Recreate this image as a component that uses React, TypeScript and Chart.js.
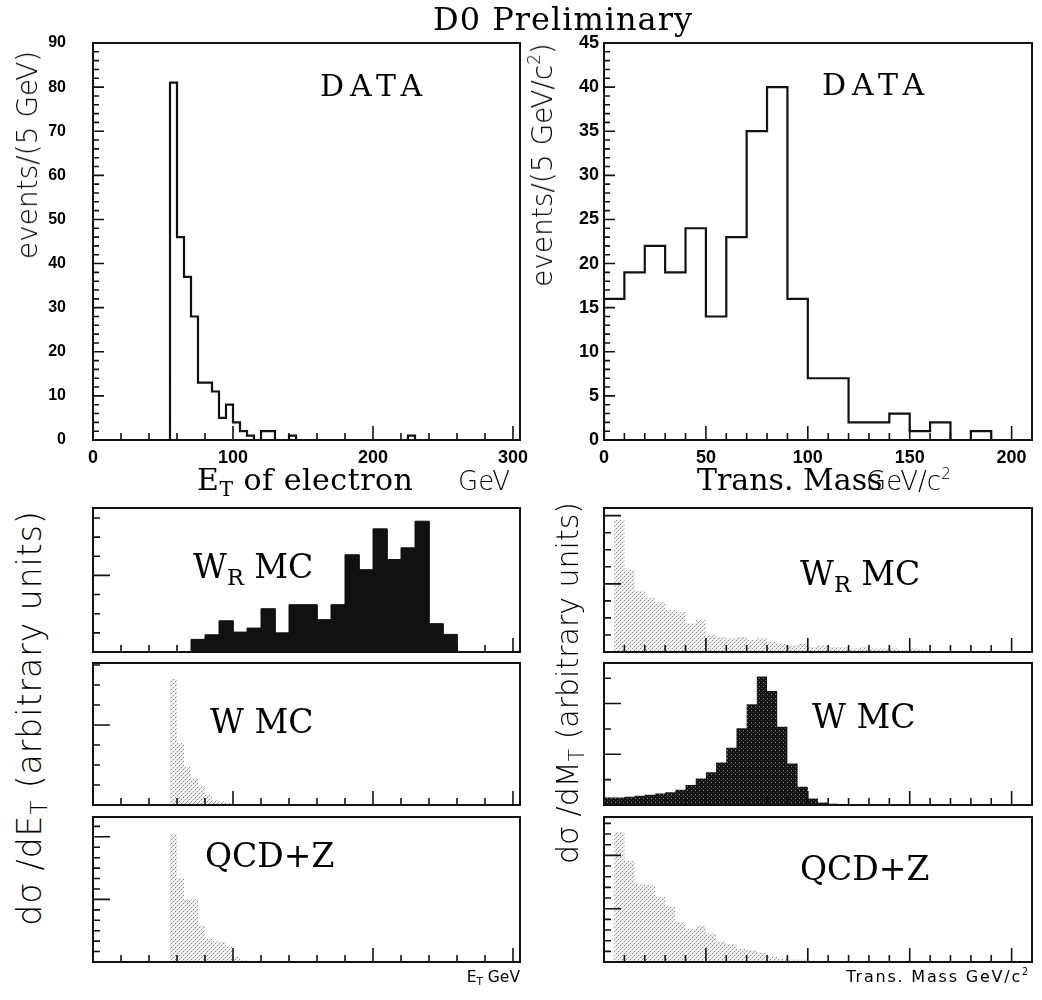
import React, { useEffect, useRef } from "react";
import { Chart, registerables } from "chart.js";

Chart.register(...registerables);

// ================= DATA =================
// Top-left: E_T of electron, DATA, events per 5 GeV (first bin starts at 55 GeV)
const etDataBinStart = 55;
const etDataBinWidth = 5;
const etDataCounts = [81, 46, 37, 28, 13, 13, 11, 5, 8, 4, 2, 1, 0, 2, 2, 0, 0, 1,
  0, 0, 0, 0, 0, 0, 0, 0, 0, 0, 0, 0, 0, 0, 0, 0, 1];
const etAxisLabels = [0, 100, 200, 300];
const etCountLabels = [0, 10, 20, 30, 40, 50, 60, 70, 80, 90];

// Top-right: transverse mass, DATA, 10 GeV/c^2 bins from 0
const mtDataBinStart = 0;
const mtDataBinWidth = 10;
const mtDataCounts = [16, 19, 22, 19, 24, 14, 23, 35, 40, 16, 7, 7, 2, 2, 3, 1, 2, 0, 1, 0];
const mtAxisLabels = [0, 50, 100, 150, 200];
const mtCountLabels = [0, 5, 10, 15, 20, 25, 30, 35, 40, 45];

// Bottom-left: d sigma / dE_T (arbitrary units)
const etWrStart = 70;
const etWrWidth = 10;
const etWrValues = [0.66, 0.9, 1.63, 1.04, 1.25, 2.26, 1.0, 2.47, 2.47, 1.69, 2.47, 5.08, 4.3, 6.43, 4.83, 5.44, 6.83, 1.48, 0.92];
const etWStart = 55;
const etWWidth = 5;
const etWValues = [6.3, 3.1, 1.9, 1.33, 0.92, 0.5, 0.25, 0.17, 0.1];
const etQcdStart = 55;
const etQcdWidth = 5;
const etQcdValues = [12.3, 8.0, 6.0, 6.0, 3.5, 2.2, 2.0, 1.9, 1.5, 0.5, 0.2];

// Bottom-right: d sigma / dM_T (arbitrary units)
const mtWrStart = 0;
const mtWrWidth = 5;
const mtWrValues = [0, 7.75, 4.8, 3.6, 3.2, 2.9, 2.45, 2.35, 1.67, 1.86, 1.0, 0.9, 0.8, 0.9, 0.7, 0.8,
  0.6, 0.5, 0.4, 0.5, 0.3, 0.4, 0.3, 0.3, 0.2, 0.3, 0.2, 0.2, 0.2, 0.1, 0.2, 0.1];
const mtWStart = 0;
const mtWWidth = 5;
const mtWValues = [0.3, 0.3, 0.33, 0.36, 0.4, 0.45, 0.5, 0.6, 0.79, 1.05, 1.29, 1.68, 2.26, 3.03, 3.97,
  5.07, 4.5, 3.09, 1.64, 0.72, 0.26, 0.1, 0.05];
const mtQcdStart = 0;
const mtQcdWidth = 5;
const mtQcdValues = [0, 12.2, 9.5, 7.3, 7.2, 6.1, 5.2, 3.75, 3.1, 3.4, 2.7, 1.9, 1.7, 1.25, 1.1, 0.9,
  0.5, 0.3, 0.2, 0.2, 0.15, 0.1, 0.1];

// ================= STYLE =================
const INK = "#111";
const SERIF = "'DejaVu Serif', 'Liberation Serif', serif";
const SANS = "'DejaVu Sans', sans-serif";
const TICKFONT = "'Liberation Sans', Arial, sans-serif";

type Fill = "none" | "solid" | "light" | "dark";

function histPoints(start: number, width: number, values: number[]) {
  const pts = [{ x: start, y: 0 }];
  values.forEach((v, i) => {
    pts.push({ x: start + i * width, y: v });
    pts.push({ x: start + (i + 1) * width, y: v });
  });
  pts.push({ x: start + values.length * width, y: 0 });
  return pts;
}

function makePattern(kind: "light" | "dark"): CanvasPattern | string {
  const c = document.createElement("canvas");
  c.width = 4;
  c.height = 4;
  const g = c.getContext("2d");
  if (!g) return kind === "light" ? "#ddd" : "#222";
  if (kind === "light") {
    g.fillStyle = "rgba(0,0,0,0.05)";
    g.fillRect(0, 0, 4, 4);
    g.fillStyle = "#8c8c8c";
    g.fillRect(0, 0, 1, 1);
    g.fillRect(2, 2, 1, 1);
    g.fillStyle = "#c8c8c8";
    g.fillRect(1, 3, 1, 1);
    g.fillRect(3, 1, 1, 1);
  } else {
    g.fillStyle = "#141414";
    g.fillRect(0, 0, 4, 4);
    g.fillStyle = "#8a8a8a";
    g.fillRect(1, 1, 1, 1);
    g.fillStyle = "#4a4a4a";
    g.fillRect(3, 3, 1, 1);
  }
  return g.createPattern(c, "repeat") || "#888";
}

type AxisSpec = {
  min: number;
  max: number;
  labels?: number[];
  minor: number;
  major: number;
  minorLen: number;
  majorLen: number;
  labelPad?: number;
  labelSize?: number;
};

type PanelSpec = {
  frame: { l: number; t: number; r: number; b: number };
  pad: { l: number; t: number; r: number; b: number };
  x: AxisSpec;
  y: AxisSpec;
  hist: { start: number; width: number; values: number[]; fill: Fill };
};

function buildConfig(spec: PanelSpec): any {
  const { hist } = spec;
  const fill = hist.fill;
  const bg =
    fill === "solid" ? INK : fill === "light" ? makePattern("light") : fill === "dark" ? makePattern("dark") : "transparent";

  const ticksPlugin = {
    id: "frameTicks",
    afterDatasetsDraw(chart: any) {
      const { ctx, chartArea: a } = chart;
      const xs = chart.scales.x;
      const ys = chart.scales.y;
      const each = (min: number, max: number, step: number, fn: (v: number) => void) => {
        const k0 = Math.ceil(min / step - 1e-9);
        const k1 = Math.floor(max / step + 1e-9);
        for (let k = k0; k <= k1; k++) fn(k * step);
      };
      const isMul = (v: number, m: number) => Math.abs(v / m - Math.round(v / m)) < 1e-6;
      ctx.save();
      ctx.strokeStyle = INK;
      ctx.lineWidth = 1.6;
      ctx.beginPath();
      each(spec.x.min, spec.x.max, spec.x.minor, (v) => {
        const len = isMul(v, spec.x.major) ? spec.x.majorLen : spec.x.minorLen;
        const px = xs.getPixelForValue(v);
        ctx.moveTo(px, a.bottom);
        ctx.lineTo(px, a.bottom - len);
      });
      each(spec.y.min, spec.y.max, spec.y.minor, (v) => {
        const len = isMul(v, spec.y.major) ? spec.y.majorLen : spec.y.minorLen;
        const py = ys.getPixelForValue(v);
        ctx.moveTo(a.left, py);
        ctx.lineTo(a.left + len, py);
      });
      ctx.stroke();
      ctx.lineWidth = 2;
      ctx.strokeRect(a.left, a.top, a.right - a.left, a.bottom - a.top);
      ctx.restore();
    },
  };

  const axis = (ax: AxisSpec, isX: boolean) => ({
    type: "linear",
    min: ax.min,
    max: ax.max,
    grid: { display: false, drawTicks: false },
    border: { display: false },
    ticks: {
      display: !!ax.labels,
      padding: ax.labelPad ?? 6,
      color: "#000",
      autoSkip: false,
      maxRotation: 0,
      font: { family: TICKFONT, weight: "bold", size: ax.labelSize ?? 18 },
      callback: (v: any) => String(v),
    },
    afterBuildTicks: (s: any) => {
      const vals = ax.labels ?? [ax.min, ax.max];
      s.ticks = vals.map((v) => ({ value: v }));
    },
    afterFit: (s: any) => {
      if (isX) {
        s.height = spec.pad.b;
        s.paddingLeft = 0;
        s.paddingRight = 0;
      } else {
        s.width = spec.pad.l;
        s.paddingTop = 0;
        s.paddingBottom = 0;
      }
    },
  });

  return {
    type: "line",
    data: {
      datasets: [
        {
          data: histPoints(hist.start, hist.width, hist.values),
          stepped: false,
          borderColor: fill === "none" || fill === "solid" ? INK : "rgba(0,0,0,0)",
          borderWidth: fill === "none" ? 2.2 : fill === "solid" ? 1 : 0,
          pointRadius: 0,
          fill: fill === "none" ? false : "origin",
          backgroundColor: bg,
        },
      ],
    },
    options: {
      animation: false,
      responsive: false,
      devicePixelRatio: 1,
      events: [],
      layout: { autoPadding: false, padding: { left: 0, top: spec.pad.t, right: spec.pad.r, bottom: 0 } },
      plugins: { legend: { display: false }, tooltip: { enabled: false } },
      scales: { x: axis(spec.x, true), y: axis(spec.y, false) },
    },
    plugins: [ticksPlugin],
  };
}

function Panel({ spec }: { spec: PanelSpec }) {
  const ref = useRef<HTMLCanvasElement>(null);
  const w = spec.frame.r - spec.frame.l + spec.pad.l + spec.pad.r;
  const h = spec.frame.b - spec.frame.t + spec.pad.t + spec.pad.b;
  useEffect(() => {
    if (!ref.current) return;
    const chart = new Chart(ref.current, buildConfig(spec));
    return () => chart.destroy();
  }, []);
  return (
    <canvas
      ref={ref}
      width={w}
      height={h}
      style={{ position: "absolute", left: spec.frame.l - spec.pad.l, top: spec.frame.t - spec.pad.t, width: w, height: h }}
    />
  );
}

function Label(props: {
  x: number;
  y: number;
  size: number;
  family?: string;
  weight?: number | string;
  align?: "left" | "center" | "right";
  spacing?: number;
  children: React.ReactNode;
}) {
  const { x, y, size, family = SERIF, weight = 400, align = "left", spacing = 0, children } = props;
  const tx = align === "center" ? "-50%" : align === "right" ? "-100%" : "0";
  return (
    <div
      style={{
        position: "absolute",
        left: x,
        top: y - 0.846 * size,
        fontSize: size,
        lineHeight: 1,
        fontFamily: family,
        fontWeight: weight as any,
        letterSpacing: spacing,
        whiteSpace: "nowrap",
        transform: `translateX(${tx})`,
        color: "#000",
      }}
    >
      {children}
    </div>
  );
}

function VLabel(props: { cx: number; cy: number; size: number; spacing?: number; children: React.ReactNode }) {
  return (
    <div
      style={{
        position: "absolute",
        left: props.cx,
        top: props.cy,
        fontSize: props.size,
        lineHeight: 1,
        fontFamily: SANS,
        fontWeight: 300,
        letterSpacing: props.spacing ?? 0,
        whiteSpace: "nowrap",
        transform: "translate(-50%,-50%) rotate(-90deg)",
        color: "#000",
      }}
    >
      {props.children}
    </div>
  );
}

const Sub = ({ children }: { children: React.ReactNode }) => (
  <span style={{ fontSize: "0.68em", verticalAlign: "-0.3em", lineHeight: 0 }}>{children}</span>
);
const Sup = ({ children }: { children: React.ReactNode }) => (
  <span style={{ fontSize: "0.6em", verticalAlign: "0.7em", lineHeight: 0 }}>{children}</span>
);

// frames
const LEFT_X = { l: 93, r: 520 };
const RIGHT_X = { l: 604, r: 1032 };
const TOP_Y = { t: 43, b: 440 };
const ROW1 = { t: 508, b: 652 };
const ROW2 = { t: 663, b: 805 };
const ROW3 = { t: 817, b: 962 };

const etX = (labels?: number[]): AxisSpec => ({ min: 0, max: 305, labels, minor: 20, major: 100, minorLen: 7, majorLen: 14, labelPad: 7 });
const mtX = (labels?: number[]): AxisSpec => ({ min: 0, max: 210, labels, minor: 10, major: 50, minorLen: 7, majorLen: 14, labelPad: 7 });
const mcY = (max: number, major: number): AxisSpec => ({ min: 0, max, minor: 1, major, minorLen: 7, majorLen: 17 });
const BOTTOM_PAD = { l: 6, t: 6, r: 6, b: 6 };

const panels: PanelSpec[] = [
  {
    frame: { ...LEFT_X, ...TOP_Y },
    pad: { l: 70, t: 14, r: 20, b: 32 },
    x: etX(etAxisLabels),
    y: { min: 0, max: 90, labels: etCountLabels, minor: 2, major: 10, minorLen: 6, majorLen: 11, labelPad: 27, labelSize: 16 },
    hist: { start: etDataBinStart, width: etDataBinWidth, values: etDataCounts, fill: "none" },
  },
  {
    frame: { ...RIGHT_X, ...TOP_Y },
    pad: { l: 40, t: 14, r: 10, b: 32 },
    x: mtX(mtAxisLabels),
    y: { min: 0, max: 45, labels: mtCountLabels, minor: 1, major: 5, minorLen: 6, majorLen: 11, labelPad: 5, labelSize: 18 },
    hist: { start: mtDataBinStart, width: mtDataBinWidth, values: mtDataCounts, fill: "none" },
  },
  { frame: { ...LEFT_X, ...ROW1 }, pad: BOTTOM_PAD, x: etX(), y: mcY(7.52, 4), hist: { start: etWrStart, width: etWrWidth, values: etWrValues, fill: "solid" } },
  { frame: { ...LEFT_X, ...ROW2 }, pad: BOTTOM_PAD, x: etX(), y: mcY(7.1, 4), hist: { start: etWStart, width: etWWidth, values: etWValues, fill: "light" } },
  { frame: { ...LEFT_X, ...ROW3 }, pad: BOTTOM_PAD, x: etX(), y: mcY(13.9, 6), hist: { start: etQcdStart, width: etQcdWidth, values: etQcdValues, fill: "light" } },
  { frame: { ...RIGHT_X, ...ROW1 }, pad: BOTTOM_PAD, x: mtX(), y: mcY(8.45, 4), hist: { start: mtWrStart, width: mtWrWidth, values: mtWrValues, fill: "light" } },
  { frame: { ...RIGHT_X, ...ROW2 }, pad: BOTTOM_PAD, x: mtX(), y: mcY(5.6, 2), hist: { start: mtWStart, width: mtWWidth, values: mtWValues, fill: "dark" } },
  { frame: { ...RIGHT_X, ...ROW3 }, pad: BOTTOM_PAD, x: mtX(), y: mcY(13.6, 5), hist: { start: mtQcdStart, width: mtQcdWidth, values: mtQcdValues, fill: "light" } },
];

export default function App() {
  return (
    <div style={{ position: "absolute", left: 0, top: 0, width: 1042, height: 1000, background: "#fff", overflow: "hidden" }}>
      {panels.map((p, i) => (
        <Panel key={i} spec={p} />
      ))}

      <Label x={433} y={30} size={32} spacing={1}>D0 Preliminary</Label>
      <Label x={320} y={96} size={30} spacing={6}>DATA</Label>
      <Label x={822} y={95} size={30} spacing={6}>DATA</Label>

      <Label x={197} y={490} size={30} spacing={0.5}>
        E<Sub>T</Sub> of electron
      </Label>
      <Label x={458} y={490} size={26} family={SANS} weight={300}>GeV</Label>
      <Label x={697} y={490} size={30}>Trans. Mass</Label>
      <Label x={866} y={490} size={26} family={SANS} weight={300}>
        GeV/c<Sup>2</Sup>
      </Label>

      <Label x={193} y={578} size={33}>
        W<Sub>R</Sub> MC
      </Label>
      <Label x={800} y={585} size={33}>
        W<Sub>R</Sub> MC
      </Label>
      <Label x={210} y={733} size={33}>W MC</Label>
      <Label x={812} y={728} size={33}>W MC</Label>
      <Label x={205} y={867} size={33}>QCD+Z</Label>
      <Label x={800} y={880} size={33}>QCD+Z</Label>

      <Label x={520} y={983} size={15.5} family={SANS} align="right">
        E<Sub>T</Sub> GeV
      </Label>
      <Label x={1030} y={983} size={16} family={SANS} spacing={1.8} align="right">
        Trans. Mass GeV/c<Sup>2</Sup>
      </Label>

      <VLabel cx={28} cy={155} size={28}>events/(5 GeV)</VLabel>
      <VLabel cx={543} cy={165} size={28}>
        events/(5 GeV/c<Sup>2</Sup>)
      </VLabel>
      <VLabel cx={29} cy={718} size={33} spacing={1}>
        dσ /dE<Sub>T</Sub> (arbitrary units)
      </VLabel>
      <VLabel cx={568} cy={683} size={30}>
        dσ /dM<Sub>T</Sub> (arbitrary units)
      </VLabel>
    </div>
  );
}
